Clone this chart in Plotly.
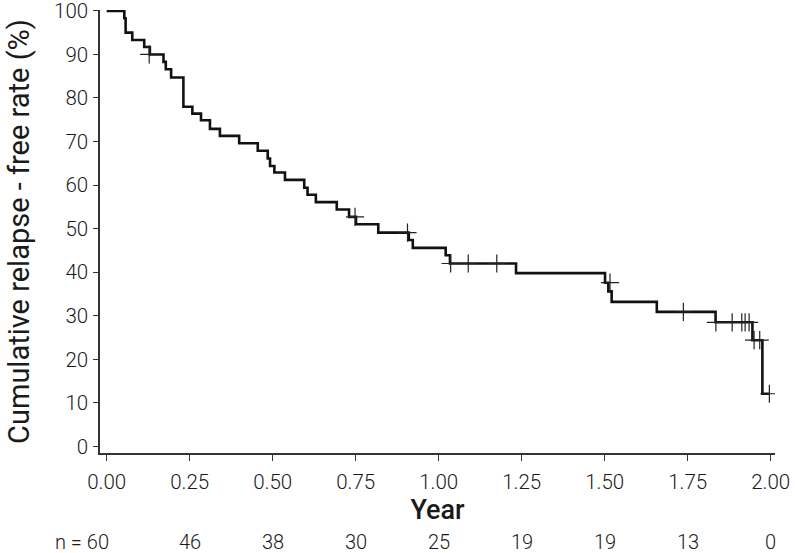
import plotly.graph_objects as go

# Step times (years) and relapse-free rate (%) after each step
step_times = [0.0, 0.053, 0.057, 0.077, 0.113, 0.130, 0.171, 0.178, 0.194, 0.231,
              0.258, 0.284, 0.311, 0.341, 0.399, 0.455, 0.485, 0.492, 0.505, 0.537,
              0.595, 0.605, 0.630, 0.693, 0.730, 0.751, 0.818, 0.910, 0.922, 1.021,
              1.034, 1.233, 1.501, 1.511, 1.521, 1.657, 1.834, 1.945, 1.975, 1.996]
step_values = [100.0, 98.3, 95.0, 93.3, 91.7, 90.0, 88.3, 86.6, 84.7, 78.0,
               76.4, 74.9, 72.9, 71.3, 69.6, 67.9, 66.1, 64.4, 62.9, 61.2,
               59.4, 57.8, 56.1, 54.4, 52.7, 51.0, 49.1, 47.4, 45.6, 43.9,
               42.0, 39.8, 37.6, 35.6, 33.2, 30.9, 28.5, 24.4, 12.1, 12.1]

# Censored observations
censor_times = [0.128, 0.748, 0.906, 1.036, 1.089, 1.175, 1.516, 1.737, 1.835,
                1.884, 1.913, 1.923, 1.935, 1.950, 1.967, 1.996]
censor_values = [90.0, 52.7, 49.1, 42.0, 42.0, 42.0, 37.6, 30.9, 28.5,
                 28.5, 28.5, 28.5, 28.5, 24.4, 24.4, 12.1]

# Numbers at risk
risk_times = [0.0, 0.25, 0.5, 0.75, 1.0, 1.25, 1.5, 1.75, 2.0]
risk_labels = ["n = 60", "46", "38", "30", "25", "19", "19", "13", "0"]

x_ticks = [0, 0.25, 0.5, 0.75, 1.0, 1.25, 1.5, 1.75, 2.0]
y_ticks = [0, 10, 20, 30, 40, 50, 60, 70, 80, 90, 100]

FONT = "Roboto"
TXT = "#1a1a1a"
TICK_SIZE = 20.5

fig = go.Figure()
fig.add_trace(go.Scatter(
    x=step_times, y=step_values, mode="lines", line_shape="hv",
    line=dict(color="#111111", width=2.6), hoverinfo="skip", showlegend=False))
fig.add_trace(go.Scatter(
    x=censor_times, y=censor_values, mode="markers",
    marker=dict(symbol="cross-thin-open", size=13, color="#222222",
                line=dict(color="#222222", width=1.2)),
    hoverinfo="skip", showlegend=False))

for t, lab in zip(risk_times, risk_labels):
    is_first = lab.startswith("n")
    fig.add_annotation(x=t, y=-0.2, xref="x", yref="paper", text=lab,
                       showarrow=False, xanchor="right" if is_first else "center",
                       yanchor="middle", xshift=4 if is_first else 0,
                       font=dict(family=FONT, size=20, color=TXT, weight=300))

fig.update_layout(
    width=797, height=553,
    margin=dict(l=100, r=22, t=10, b=100),
    plot_bgcolor="white", paper_bgcolor="white",
    font=dict(family=FONT, color=TXT),
    xaxis=dict(
        range=[-0.0202, 2.013], tickvals=x_ticks, tickformat=".2f",
        showgrid=False, zeroline=False, showline=True, linecolor="#333333", linewidth=1.5,
        ticks="outside", ticklen=6, tickwidth=1.2, tickcolor="#333333",
        tickfont=dict(family=FONT, size=TICK_SIZE, color=TXT, weight=300),
        ticklabelstandoff=4, automargin=False,
        title=dict(text="Year", font=dict(family=FONT, size=27, color=TXT, weight=500), standoff=2),
    ),
    yaxis=dict(
        range=[-1.5, 100.2], tickvals=y_ticks,
        showgrid=False, zeroline=False, showline=True, linecolor="#333333", linewidth=1.5,
        ticks="outside", ticklen=5, tickwidth=1.2, tickcolor="#333333",
        tickfont=dict(family=FONT, size=TICK_SIZE, color=TXT, weight=300),
        ticklabelstandoff=1, ticklabeloverflow="allow", automargin=False,
        title=dict(text="Cumulative relapse - free rate (%)",
                   font=dict(family=FONT, size=29, color=TXT, weight=400), standoff=16),
    ),
)

fig.write_html("out.html", config={"displayModeBar": False},
               post_script="document.body.style.margin='0';")
